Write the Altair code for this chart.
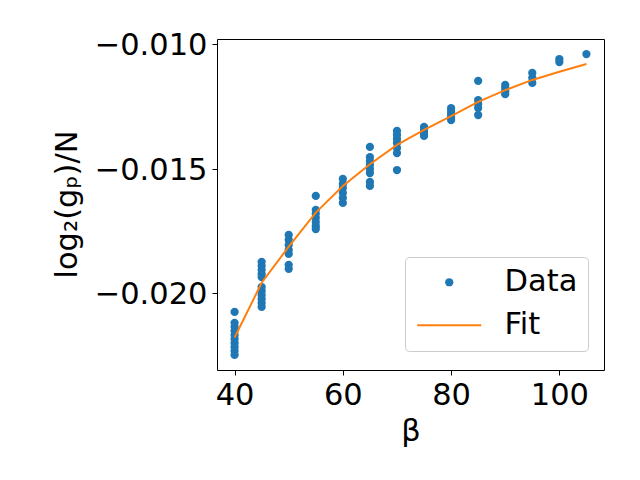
import altair as alt
import pandas as pd

# ---- data ----
beta_groups = [40, 45, 50, 55, 60, 65, 70, 75, 80, 85, 90, 95, 100, 105]
vals_40 = [-0.02075, -0.02119, -0.02135, -0.02151, -0.02168, -0.02184, -0.02200, -0.02216, -0.02232, -0.02248]
vals_45 = [-0.01874, -0.01890, -0.01906, -0.01922, -0.01935, -0.01975, -0.01991, -0.02007, -0.02023, -0.02039, -0.02055]
vals_50 = [-0.01766, -0.01786, -0.01806, -0.01826, -0.01842, -0.01886, -0.01902]
vals_55 = [-0.01609, -0.01665, -0.01681, -0.01697, -0.01714, -0.01730, -0.01742]
vals_60 = [-0.01541, -0.01561, -0.01577, -0.01597, -0.01617, -0.01637]
vals_65 = [-0.01412, -0.01453, -0.01469, -0.01485, -0.01501, -0.01517, -0.01553, -0.01569]
vals_70 = [-0.01348, -0.01364, -0.01380, -0.01396, -0.01416, -0.01437, -0.01505]
vals_75 = [-0.01332, -0.01344, -0.01356, -0.01368]
vals_80 = [-0.01256, -0.01268, -0.01280, -0.01292, -0.01304]
vals_85 = [-0.01147, -0.01224, -0.01240, -0.01256, -0.01284]
vals_90 = [-0.01163, -0.01175, -0.01188, -0.01200]
vals_95 = [-0.01115, -0.01135, -0.01155]
vals_100 = [-0.01059, -0.01071]
vals_105 = [-0.01039]

fit_beta = [40, 45, 50, 55, 60, 65, 70, 75, 80, 85, 90, 95, 100, 105]
fit_values = [-0.02178, -0.01958, -0.01813, -0.01676, -0.01569, -0.01482, -0.01404,
              -0.01344, -0.01288, -0.01231, -0.01184, -0.01143, -0.01110, -0.01079]

x_ticks = [40, 60, 80, 100]
y_ticks = [-0.020, -0.015, -0.010]
series_names = ["Data", "Fit"]

# ---- build tables ----
group_values = [vals_40, vals_45, vals_50, vals_55, vals_60, vals_65, vals_70,
                vals_75, vals_80, vals_85, vals_90, vals_95, vals_100, vals_105]
rows = []
for b, vals in zip(beta_groups, group_values):
    for v in vals:
        rows.append({"beta": b, "value": v, "series": "Data"})
df = pd.DataFrame(rows)
fit_df = pd.DataFrame({"beta": fit_beta, "value": fit_values})

BLUE = "#1f77b4"
ORANGE = "#ff7f0e"
FONT = "DejaVu Sans"
FS = 30.5
MSIZE = 68
LINE_PATH = "M-7.76,-0.25L7.76,-0.25L7.76,0.25L-7.76,0.25Z"

xscale = alt.Scale(domain=[36.75, 108.25], nice=False, zero=False)
yscale = alt.Scale(domain=[-0.023085, -0.009785], nice=False, zero=False)

xaxis = alt.Axis(
    title="β", values=x_ticks, format="d", grid=False, domain=False,
    tickSize=5, tickColor="black", tickWidth=1,
    labelFont=FONT, labelFontSize=FS, labelColor="black", labelPadding=5, labelFlush=False,
    titleFont=FONT, titleFontSize=FS, titleFontWeight="normal", titleColor="black",
    titleY=70, titleBaseline="alphabetic",
)
yaxis = alt.Axis(
    title="log₂(gₚ)/N", values=y_ticks, format=".3f", grid=False, domain=False,
    tickSize=5, tickColor="black", tickWidth=1,
    labelFont=FONT, labelFontSize=FS, labelColor="black", labelPadding=5, labelFlush=False,
    labelOffset=1.5,
    titleFont=FONT, titleFontSize=FS, titleFontWeight="normal", titleColor="black",
    titleAngle=270, titleX=-141, titleY=165, titleAlign="center", titleBaseline="alphabetic",
)

legend = alt.Legend(
    title=None, orient="none", legendX=188, legendY=218,
    labelFont=FONT, labelFontSize=FS, labelColor="black",
    padding=10, rowPadding=12, symbolSize=MSIZE, symbolOffset=19, labelOffset=40,
    strokeColor="#cccccc", fillColor="rgba(255,255,255,0.8)", cornerRadius=4,
    symbolOpacity=1, symbolStrokeWidth=0,
)

points = alt.Chart(df).mark_point(filled=True, size=MSIZE, opacity=1, strokeWidth=0).encode(
    x=alt.X("beta:Q", scale=xscale, axis=xaxis),
    y=alt.Y("value:Q", scale=yscale, axis=yaxis),
    color=alt.Color("series:N", scale=alt.Scale(domain=series_names, range=[BLUE, ORANGE]), legend=legend),
    shape=alt.Shape("series:N", scale=alt.Scale(domain=series_names, range=["circle", LINE_PATH]), legend=legend),
)

line = alt.Chart(fit_df).mark_line(color=ORANGE, strokeWidth=2).encode(
    x=alt.X("beta:Q", scale=xscale),
    y=alt.Y("value:Q", scale=yscale),
)

chart = alt.layer(points, line).properties(
    width=387, height=331,
    autosize=alt.AutoSizeParams(type="none"),
    padding={"left": 209, "top": 31, "right": 20, "bottom": 90},
    background="white",
).configure_view(stroke="black", strokeWidth=1)

chart.save("out.html", embed_options={"renderer": "svg", "actions": False})
